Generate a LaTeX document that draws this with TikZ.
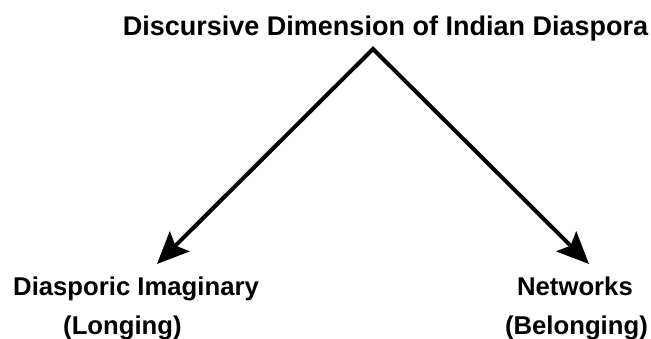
\documentclass[tikz,border=0pt]{standalone}
\usepackage{fontspec}
\setmainfont{Liberation Sans}
\usetikzlibrary{arrows.meta}
\begin{document}
\begin{tikzpicture}[x=1pt,y=-1pt,
  title/.style={font=\fontsize{27}{30}\selectfont\bfseries, inner sep=0pt},
  lbl/.style={font=\fontsize{25.7}{30}\selectfont\bfseries, inner sep=0pt},
  arr/.style={line width=4pt, line join=miter,
    {Stealth[length=32pt,width=28pt,inset=6pt]}-{Stealth[length=32pt,width=28pt,inset=6pt]}}]
\useasboundingbox (0,0) rectangle (651,338);
\node[title, anchor=base] (top) at (385.5,35) {Discursive Dimension of Indian Diaspora};
\coordinate (apex) at (373,49);
\coordinate (ltip) at (157,264);
\coordinate (rtip) at (589,264);
\node[lbl, anchor=base west] (di) at (13,295) {Diasporic Imaginary};
\node[lbl, anchor=base west] (lg) at (63,334) {(Longing)};
\node[lbl, anchor=base east] (nw) at (633,295) {Networks};
\node[lbl, anchor=base east] (bl) at (648,334) {(Belonging)};
\draw[arr] (ltip) -- (apex) -- (rtip);
\end{tikzpicture}
\end{document}
